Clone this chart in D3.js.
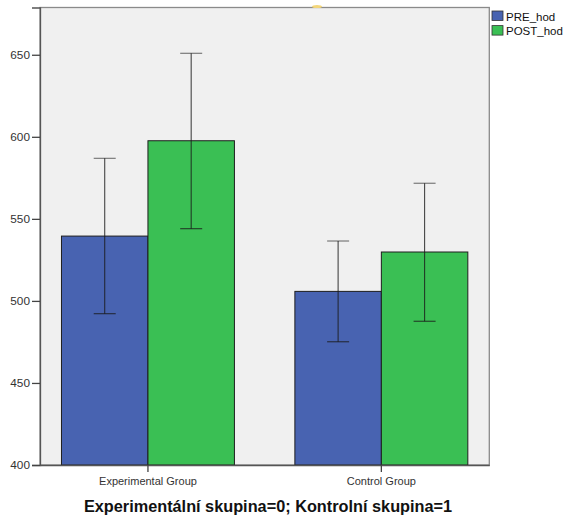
<!DOCTYPE html>
<html>
<head>
<meta charset="utf-8">
<script src="https://cdn.jsdelivr.net/npm/d3@7/dist/d3.min.js"></script>
<style>
  html, body { margin: 0; padding: 0; background: #ffffff; }
  svg { display: block; }
  text { font-family: "Liberation Sans", Arial, sans-serif; }
</style>
</head>
<body>
<svg id="chart" width="566" height="522"></svg>
<script>
// Groups and measures
const groups = ["Experimental Group", "Control Group"];
const seriesNames = ["PRE_hod", "POST_hod"];
const seriesColors = ["#4863b1", "#3abf54"];

// Means per group (order follows `groups`)
const preMeans  = [539.5, 505.8];
const postMeans = [597.6, 529.8];
// Error bar bounds
const preLower  = [492.2, 475.1];
const preUpper  = [586.9, 536.5];
const postLower = [544.0, 487.6];
const postUpper = [650.9, 571.7];

const yTicks = [400, 450, 500, 550, 600, 650];
const xTitle = "Experimentální skupina=0; Kontrolní skupina=1";

const plot = { left: 40, right: 489.3, top: 7.5, bottom: 465 };

const svg = d3.select("#chart");

const x0 = d3.scaleBand()
  .domain(groups)
  .range([plot.left, plot.right])
  .paddingInner(0.259)
  .paddingOuter(0.092);

const x1 = d3.scaleBand()
  .domain(seriesNames)
  .range([0, x0.bandwidth()]);

const y = d3.scaleLinear()
  .domain([400, 678.8])
  .range([plot.bottom, plot.top]);

const color = d3.scaleOrdinal().domain(seriesNames).range(seriesColors);

// plot background
svg.append("rect")
  .attr("x", plot.left).attr("y", plot.top)
  .attr("width", plot.right - plot.left).attr("height", plot.bottom - plot.top)
  .attr("fill", "#f0f0f0")
  .attr("stroke", "#8a8a8a")
  .attr("stroke-width", 1.3);

// small highlight on the top frame
svg.append("ellipse")
  .attr("cx", 317).attr("cy", 6.5).attr("rx", 5).attr("ry", 1.6)
  .attr("fill", "#f3d67a");

// rows: one per bar
const rows = [];
groups.forEach((g, i) => {
  rows.push({ group: g, series: "PRE_hod", mean: preMeans[i], lo: preLower[i], hi: preUpper[i] });
  rows.push({ group: g, series: "POST_hod", mean: postMeans[i], lo: postLower[i], hi: postUpper[i] });
});

// bars
svg.append("g").selectAll("rect")
  .data(rows)
  .join("rect")
  .attr("x", d => x0(d.group) + x1(d.series))
  .attr("y", d => y(d.mean))
  .attr("width", x1.bandwidth())
  .attr("height", d => y(400) - y(d.mean))
  .attr("fill", d => color(d.series))
  .attr("stroke", "#1e1e1e")
  .attr("stroke-width", 1);

// error bars
const capHalf = 11;
const eb = svg.append("g").attr("stroke", "#1a1a1a").attr("stroke-width", 1.1).attr("fill", "none");
rows.forEach(d => {
  const cx = x0(d.group) + x1(d.series) + x1.bandwidth() / 2;
  eb.append("line").attr("x1", cx).attr("x2", cx).attr("y1", y(d.lo)).attr("y2", y(d.hi)).attr("stroke-opacity", 0.8);
  eb.append("line").attr("x1", cx - capHalf).attr("x2", cx + capHalf).attr("y1", y(d.hi)).attr("y2", y(d.hi)).attr("stroke-opacity", 0.6);
  eb.append("line").attr("x1", cx - capHalf).attr("x2", cx + capHalf).attr("y1", y(d.lo)).attr("y2", y(d.lo)).attr("stroke-opacity", 0.8);
});

// y axis
const yAxis = svg.append("g")
  .attr("transform", `translate(${plot.left},0)`)
  .call(d3.axisLeft(y).tickValues(yTicks).tickSize(8).tickPadding(2).tickFormat(d3.format("d")));
yAxis.select(".domain").attr("stroke", "#555").attr("stroke-width", 1.3);
yAxis.selectAll(".tick line").attr("stroke", "#444").attr("stroke-width", 1.3);
yAxis.selectAll(".tick text")
  .attr("font-size", 11.8)
  .attr("fill", "#333")
  .style("font-family", "'Liberation Sans', Arial, sans-serif");

// x axis
const xAxis = svg.append("g")
  .attr("transform", `translate(0,${plot.bottom})`)
  .call(d3.axisBottom(x0).tickSize(7).tickPadding(5).tickSizeOuter(0));
xAxis.select(".domain").attr("stroke", "#555").attr("stroke-width", 1.3);
xAxis.selectAll(".tick line").attr("stroke", "#444").attr("stroke-width", 1.3);
xAxis.selectAll(".tick text")
  .attr("font-size", 11)
  .attr("fill", "#333")
  .style("font-family", "'Liberation Sans', Arial, sans-serif");

// x title
svg.append("text")
  .attr("x", 268)
  .attr("y", 512)
  .attr("text-anchor", "middle")
  .attr("font-size", 16.3)
  .attr("font-weight", "bold")
  .attr("fill", "#111")
  .text(xTitle);

// legend
const legend = svg.append("g").attr("transform", "translate(492,11)");
seriesNames.forEach((s, i) => {
  const row = legend.append("g").attr("transform", `translate(0,${i * 14.6})`);
  row.append("rect")
    .attr("x", 0).attr("y", 0).attr("width", 11).attr("height", 9.5)
    .attr("fill", color(s)).attr("stroke", "#333").attr("stroke-width", 0.8);
  row.append("text")
    .attr("x", 14).attr("y", 9.5)
    .attr("font-size", 11.5)
    .attr("fill", "#111")
    .text(s);
});
</script>
</body>
</html>
